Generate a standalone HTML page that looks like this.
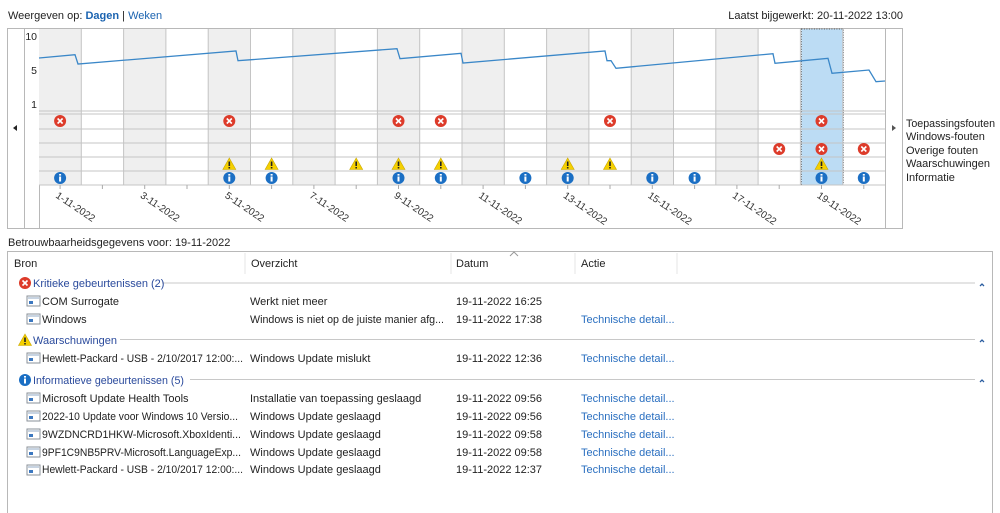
<!DOCTYPE html>
<html><head><meta charset="utf-8"><style>
body{margin:0;background:#fff;width:1000px;height:513px;overflow:hidden;font-family:"Liberation Sans",sans-serif;}
svg{display:block}
text{font-family:"Liberation Sans",sans-serif;}
</style></head><body>
<svg width="1000" height="513" viewBox="0 0 1000 513" xmlns="http://www.w3.org/2000/svg">
<defs>
<g id="err"><circle r="6" fill="#dd3b2a"/><path d="M-2.5,-2.5L2.5,2.5M2.5,-2.5L-2.5,2.5" stroke="#fff" stroke-width="1.6"/></g>
<g id="warn"><path d="M0,-6L6.5,5.5L-6.5,5.5Z" fill="#f5d000" stroke="#c9a800" stroke-width="0.6"/><rect x="-0.8" y="-2.5" width="1.6" height="4.5" fill="#222"/><rect x="-0.8" y="3" width="1.6" height="1.5" fill="#222"/></g>
<g id="info"><circle r="6" fill="#1b6fc4"/><rect x="-1" y="-1.5" width="2" height="5" fill="#fff"/><rect x="-1" y="-4" width="2" height="1.6" fill="#fff"/></g>
<g id="doc"><rect x="0" y="0" width="13" height="10" fill="#fff" stroke="#8a9099"/><rect x="1" y="1" width="11" height="2" fill="#c8d4e2"/><rect x="2" y="5" width="4" height="3" fill="#3c78c0"/></g>
</defs>
<text x="8" y="19" font-size="11" fill="#222">Weergeven op: <tspan fill="#1b63b0" font-weight="bold">Dagen</tspan> | <tspan fill="#1b63b0">Weken</tspan></text>
<text x="903" y="19" font-size="11" fill="#222" text-anchor="end">Laatst bijgewerkt: 20-11-2022 13:00</text>
<rect x="7.5" y="28.5" width="895" height="200" fill="#fff" stroke="#b8b8b8"/>
<line x1="24.5" y1="28" x2="24.5" y2="228" stroke="#b8b8b8"/>
<line x1="39.5" y1="28" x2="39.5" y2="228" stroke="#b8b8b8"/>
<line x1="885.5" y1="28" x2="885.5" y2="228" stroke="#b8b8b8"/>
<g fill="#efefef">
<rect x="39" y="29" width="42.3" height="156"/><rect x="123.6" y="29" width="42.3" height="156"/><rect x="208.2" y="29" width="42.3" height="156"/><rect x="292.8" y="29" width="42.3" height="156"/><rect x="377.4" y="29" width="42.3" height="156"/><rect x="462" y="29" width="42.3" height="156"/><rect x="546.6" y="29" width="42.3" height="156"/><rect x="631.2" y="29" width="42.3" height="156"/><rect x="715.8" y="29" width="42.3" height="156"/>
</g>
<rect x="801.4" y="29" width="41.9" height="156" fill="#bcdcf4" stroke="#555" stroke-dasharray="1,1.5"/>
<g stroke="#c4c4c4">
<line x1="81.3" y1="29" x2="81.3" y2="185"/><line x1="123.6" y1="29" x2="123.6" y2="185"/><line x1="165.9" y1="29" x2="165.9" y2="185"/><line x1="208.2" y1="29" x2="208.2" y2="185"/><line x1="250.5" y1="29" x2="250.5" y2="185"/><line x1="292.8" y1="29" x2="292.8" y2="185"/><line x1="335.1" y1="29" x2="335.1" y2="185"/><line x1="377.4" y1="29" x2="377.4" y2="185"/><line x1="419.7" y1="29" x2="419.7" y2="185"/><line x1="462" y1="29" x2="462" y2="185"/><line x1="504.3" y1="29" x2="504.3" y2="185"/><line x1="546.6" y1="29" x2="546.6" y2="185"/><line x1="588.9" y1="29" x2="588.9" y2="185"/><line x1="631.2" y1="29" x2="631.2" y2="185"/><line x1="673.5" y1="29" x2="673.5" y2="185"/><line x1="715.8" y1="29" x2="715.8" y2="185"/><line x1="758.1" y1="29" x2="758.1" y2="185"/><line x1="800.4" y1="29" x2="800.4" y2="185"/><line x1="842.7" y1="29" x2="842.7" y2="185"/>
<line x1="39" y1="111" x2="885" y2="111"/><line x1="39" y1="114" x2="885" y2="114"/><line x1="39" y1="129" x2="885" y2="129"/><line x1="39" y1="143" x2="885" y2="143"/><line x1="39" y1="157" x2="885" y2="157"/><line x1="39" y1="171" x2="885" y2="171"/><line x1="39" y1="185" x2="885" y2="185"/>
</g>
<g font-size="10.5" fill="#222" text-anchor="end"><text x="37" y="40">10</text><text x="37" y="74">5</text><text x="37" y="108">1</text></g>
<polyline fill="none" stroke="#3a87c8" stroke-width="1.3" points="39,58 75,54.7 78,64 236,51 238,60.7 397,48.7 400,58.7 461,53.3 463,63 605,51 607,60.7 611,60.7 616,68.3 773,53.7 775,63.3 828,58.3 832,73.3 869,70 876,81.7 885,81"/>
<g stroke="#aaa"><line x1="60.1" y1="185" x2="60.1" y2="189"/><line x1="102.4" y1="185" x2="102.4" y2="189"/><line x1="144.7" y1="185" x2="144.7" y2="189"/><line x1="187" y1="185" x2="187" y2="189"/><line x1="229.3" y1="185" x2="229.3" y2="189"/><line x1="271.6" y1="185" x2="271.6" y2="189"/><line x1="313.9" y1="185" x2="313.9" y2="189"/><line x1="356.2" y1="185" x2="356.2" y2="189"/><line x1="398.5" y1="185" x2="398.5" y2="189"/><line x1="440.8" y1="185" x2="440.8" y2="189"/><line x1="483.1" y1="185" x2="483.1" y2="189"/><line x1="525.4" y1="185" x2="525.4" y2="189"/><line x1="567.7" y1="185" x2="567.7" y2="189"/><line x1="610" y1="185" x2="610" y2="189"/><line x1="652.3" y1="185" x2="652.3" y2="189"/><line x1="694.6" y1="185" x2="694.6" y2="189"/><line x1="736.9" y1="185" x2="736.9" y2="189"/><line x1="779.2" y1="185" x2="779.2" y2="189"/><line x1="821.5" y1="185" x2="821.5" y2="189"/><line x1="863.8" y1="185" x2="863.8" y2="189"/></g>
<g font-size="10" fill="#333">
<text transform="translate(55,197) rotate(34)">1-11-2022</text><text transform="translate(139.6,197) rotate(34)">3-11-2022</text><text transform="translate(224.2,197) rotate(34)">5-11-2022</text><text transform="translate(308.8,197) rotate(34)">7-11-2022</text><text transform="translate(393.4,197) rotate(34)">9-11-2022</text><text transform="translate(478,197) rotate(34)">11-11-2022</text><text transform="translate(562.6,197) rotate(34)">13-11-2022</text><text transform="translate(647.2,197) rotate(34)">15-11-2022</text><text transform="translate(731.8,197) rotate(34)">17-11-2022</text><text transform="translate(816.4,197) rotate(34)">19-11-2022</text>
</g>
<g>
<use href="#err" x="60.1" y="121"/><use href="#err" x="229.3" y="121"/><use href="#err" x="398.5" y="121"/><use href="#err" x="440.8" y="121"/><use href="#err" x="610" y="121"/><use href="#err" x="821.5" y="121"/>
<use href="#err" x="779.2" y="149"/><use href="#err" x="821.5" y="149"/><use href="#err" x="863.8" y="149"/>
<use href="#warn" x="229.3" y="164"/><use href="#warn" x="271.6" y="164"/><use href="#warn" x="356.2" y="164"/><use href="#warn" x="398.5" y="164"/><use href="#warn" x="440.8" y="164"/><use href="#warn" x="567.7" y="164"/><use href="#warn" x="610" y="164"/><use href="#warn" x="821.5" y="164"/>
<use href="#info" x="60.1" y="178"/><use href="#info" x="229.3" y="178"/><use href="#info" x="271.6" y="178"/><use href="#info" x="398.5" y="178"/><use href="#info" x="440.8" y="178"/><use href="#info" x="525.4" y="178"/><use href="#info" x="567.7" y="178"/><use href="#info" x="652.3" y="178"/><use href="#info" x="694.6" y="178"/><use href="#info" x="821.5" y="178"/><use href="#info" x="863.8" y="178"/>
</g>
<path d="M13,128L17,125L17,131Z" fill="#222"/><path d="M896,128L892,125L892,131Z" fill="#555"/>
<g font-size="11" fill="#222"><text x="906" y="127" textLength="89" lengthAdjust="spacingAndGlyphs">Toepassingsfouten</text><text x="906" y="140">Windows-fouten</text><text x="906" y="154">Overige fouten</text><text x="906" y="167">Waarschuwingen</text><text x="906" y="181">Informatie</text></g>
<text x="8" y="246" font-size="11" fill="#222">Betrouwbaarheidsgegevens voor: 19-11-2022</text>
<rect x="7.5" y="251.5" width="985" height="270" fill="#fff" stroke="#b8b8b8"/>
<g stroke="#e6e6e6"><line x1="245" y1="253" x2="245" y2="274"/><line x1="451" y1="253" x2="451" y2="274"/><line x1="575" y1="253" x2="575" y2="274"/><line x1="677" y1="253" x2="677" y2="274"/></g>
<path d="M510,256L514,252L518,256" fill="none" stroke="#999"/>
<g font-size="11" fill="#222"><text x="14" y="267">Bron</text><text x="251" y="267">Overzicht</text><text x="456" y="267">Datum</text><text x="581" y="267">Actie</text></g>
<g stroke="#c8c8c8"><line x1="162" y1="283" x2="975" y2="283"/><line x1="120" y1="339.5" x2="975" y2="339.5"/><line x1="190" y1="379.5" x2="975" y2="379.5"/></g>
<g fill="none" stroke="#2a5da0" stroke-width="1.3"><path d="M980,286L982,284L984,286"/><path d="M980,342L982,340L984,342"/><path d="M980,382L982,380L984,382"/></g>
<use href="#err" x="25" y="283"/><use href="#warn" x="25" y="340"/><use href="#info" x="25" y="380"/>
<g font-size="11" fill="#2a4a9c"><text x="33" y="287">Kritieke gebeurtenissen (2)</text><text x="33" y="344">Waarschuwingen</text><text x="33" y="384" textLength="151" lengthAdjust="spacingAndGlyphs">Informatieve gebeurtenissen (5)</text></g>
<g><use href="#doc" x="27" y="296"/><use href="#doc" x="27" y="314"/><use href="#doc" x="27" y="353"/><use href="#doc" x="27" y="393"/><use href="#doc" x="27" y="411"/><use href="#doc" x="27" y="429"/><use href="#doc" x="27" y="447"/><use href="#doc" x="27" y="465"/></g>
<g font-size="11" fill="#222">
<text x="42" y="305">COM Surrogate</text><text x="250" y="305">Werkt niet meer</text><text x="456" y="305">19-11-2022 16:25</text>
<text x="42" y="323">Windows</text><text x="250" y="323" textLength="194" lengthAdjust="spacingAndGlyphs">Windows is niet op de juiste manier afg...</text><text x="456" y="323">19-11-2022 17:38</text>
<text x="42" y="362" textLength="201" lengthAdjust="spacingAndGlyphs">Hewlett-Packard - USB - 2/10/2017 12:00:...</text><text x="250" y="362">Windows Update mislukt</text><text x="456" y="362">19-11-2022 12:36</text>
<text x="42" y="402">Microsoft Update Health Tools</text><text x="250" y="402">Installatie van toepassing geslaagd</text><text x="456" y="402">19-11-2022 09:56</text>
<text x="42" y="420" textLength="196" lengthAdjust="spacingAndGlyphs">2022-10 Update voor Windows 10 Versio...</text><text x="250" y="420">Windows Update geslaagd</text><text x="456" y="420">19-11-2022 09:56</text>
<text x="42" y="438" textLength="199" lengthAdjust="spacingAndGlyphs">9WZDNCRD1HKW-Microsoft.XboxIdenti...</text><text x="250" y="438">Windows Update geslaagd</text><text x="456" y="438">19-11-2022 09:58</text>
<text x="42" y="456" textLength="199" lengthAdjust="spacingAndGlyphs">9PF1C9NB5PRV-Microsoft.LanguageExp...</text><text x="250" y="456">Windows Update geslaagd</text><text x="456" y="456">19-11-2022 09:58</text>
<text x="42" y="473" textLength="201" lengthAdjust="spacingAndGlyphs">Hewlett-Packard - USB - 2/10/2017 12:00:...</text><text x="250" y="473">Windows Update geslaagd</text><text x="456" y="473">19-11-2022 12:37</text>
</g>
<g font-size="11" fill="#2a6fc0">
<text x="581" y="323">Technische detail...</text><text x="581" y="362">Technische detail...</text><text x="581" y="402">Technische detail...</text><text x="581" y="420">Technische detail...</text><text x="581" y="438">Technische detail...</text><text x="581" y="456">Technische detail...</text><text x="581" y="473">Technische detail...</text>
</g>
</svg>
</body></html>
